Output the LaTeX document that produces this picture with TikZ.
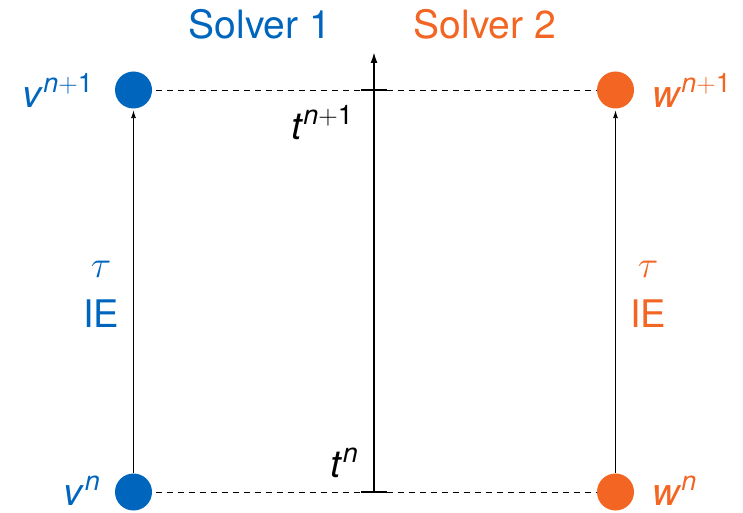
\RequirePackage{fix-cm}
\documentclass[tikz,border=0pt]{standalone}
\usepackage{fontspec}
\setmainfont{TeX Gyre Heros}
\usetikzlibrary{arrows.meta}
\definecolor{sblue}{RGB}{0,101,189}
\definecolor{sorange}{RGB}{242,101,34}
\newcommand{\mysup}[1]{\raisebox{15pt}{\fontsize{27}{27}\selectfont #1}}
\tikzset{
  lbl/.style={font=\fontsize{38}{40}\selectfont, inner sep=0pt, text depth=0pt},
  dot/.style={circle, fill=#1, minimum size=37pt, inner sep=0pt},
  dashline/.style={dash pattern=on 6pt off 5pt, line width=0.9pt},
  steparrow/.style={-{Latex[length=8pt,width=5pt]}, line width=0.9pt, shorten >=1.5pt},
  timeaxis/.style={-{Latex[length=11pt,width=7pt]}, line width=1.8pt},
  tickmark/.style={line width=1.8pt}
}
\begin{document}
\begin{tikzpicture}[x=1pt,y=-1pt]
\useasboundingbox (0,0) rectangle (743,513);
% coordinates
\coordinate (tb) at (374,492);
\coordinate (tt) at (374,52);
\coordinate (tbL) at (361,492);
\coordinate (tbR) at (387,492);
\coordinate (ttL) at (361,90);
\coordinate (ttR) at (387,90);
% dashed lines
\draw[dashline] (133.5,90) -- (615.5,90);
\draw[dashline] (133.5,492) -- (615.5,492);
% dots
\node[dot=sblue] (v1) at (133.5,90) {};
\node[dot=sblue] (v0) at (133.5,492) {};
\node[dot=sorange] (w1) at (615.5,90) {};
\node[dot=sorange] (w0) at (615.5,492) {};
% arrows
\draw[steparrow] (v0) -- (v1);
\draw[steparrow] (w0) -- (w1);
% time axis
\draw[timeaxis] (tb) -- (tt);
\draw[tickmark] (tbL) -- (tbR);
\draw[tickmark] (ttL) -- (ttR);
% labels
\node[lbl, font=\fontsize{39}{40}\selectfont, text=sblue, anchor=base] (s1) at (260,39) {Solver 1};
\node[lbl, font=\fontsize{39}{40}\selectfont, text=sorange, anchor=base] (s2) at (485,39) {Solver 2};
\node[lbl, text=sblue, anchor=base east] (lv1) at (93,108) {\textit{v}\mysup{\textit{n}$+$1}};
\node[lbl, text=sblue, anchor=base east] (lv0) at (100,505) {\textit{v}\mysup{\textit{n}}};
\node[lbl, text=sorange, anchor=base west] (lw1) at (652,108) {\textit{w}\mysup{\textit{n}$+$1}};
\node[lbl, text=sorange, anchor=base west] (lw0) at (652,505) {\textit{w}\mysup{\textit{n}}};
\node[lbl, anchor=base east] (lt1) at (353,140) {\textit{t}\mysup{\textit{n}$+$1}};
\node[lbl, anchor=base east] (lt0) at (358,477) {\textit{t}\mysup{\textit{n}}};
\node[lbl, text=sblue, anchor=base] (tau1) at (101,277) {$\tau$};
\node[lbl, text=sblue, anchor=base] (ie1) at (101,327) {IE};
\node[lbl, text=sorange, anchor=base] (tau2) at (648,277) {$\tau$};
\node[lbl, text=sorange, anchor=base] (ie2) at (648,327) {IE};
\end{tikzpicture}
\end{document}
